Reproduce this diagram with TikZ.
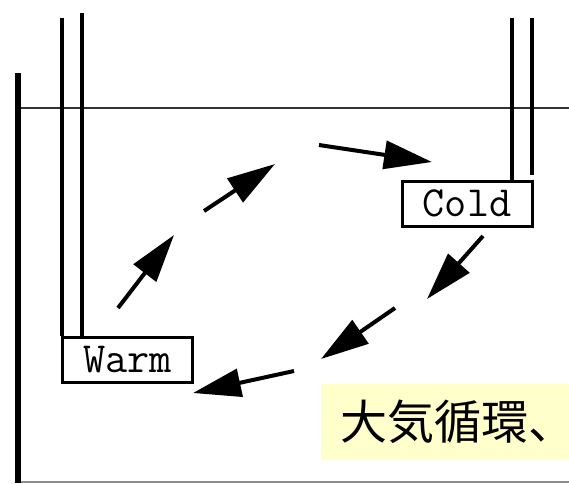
\documentclass[tikz,border=0pt]{standalone}
\usepackage{fontspec}
\newfontfamily\cjk{Noto Sans CJK JP}
\usetikzlibrary{arrows.meta}
\definecolor{notefill}{HTML}{FFFFCC}
\begin{document}
\begin{tikzpicture}[x=1pt,y=-1pt,
  wall/.style={line width=5.5pt},
  tube/.style={line width=4.5pt},
  surface/.style={line width=1.5pt, black!80},
  floor/.style={line width=2pt, black!45},
  labelbox/.style={draw, line width=3pt, fill=white, inner sep=0pt, minimum width=130pt, minimum height=45pt, font=\fontsize{43}{44}\selectfont\ttfamily},
  flow/.style={line width=4pt, -{Triangle[length=48pt,width=28pt]}}]
\useasboundingbox (0,0) rectangle (569,483);
\clip (0,0) rectangle (569,483);
% water surface and floor
\coordinate (s0) at (18,108);
\coordinate (s1) at (569,108);
\draw[surface] (s0) -- (s1);
\coordinate (f0) at (18,481.5);
\coordinate (f1) at (569,481.5);
\draw[floor] (f0) -- (f1);
% left wall
\coordinate (w0) at (18,73);
\coordinate (w1) at (18,483);
\draw[wall] (w0) -- (w1);
% boxes
\node[labelbox] (warm) at (127.3,360) {Warm};
\node[labelbox] (cold) at (467,203.5) {Cold};
% tubes
\coordinate (lt1) at (62,18);
\coordinate (lt2) at (82,13);
\coordinate (rt1) at (512,18);
\coordinate (rt2) at (532,18);
\coordinate (rt2e) at (532,175);
\draw[tube] (lt1) -- (lt1 |- warm.north);
\draw[tube] (lt2) -- (lt2 |- warm.north);
\draw[tube] (rt1) -- (rt1 |- cold.north);
\draw[tube] (rt2) -- (rt2e);
% circulation arrows
\coordinate (a1s) at (118,308); \coordinate (a1e) at (174,235);
\coordinate (a2s) at (204,211); \coordinate (a2e) at (275,164);
\coordinate (a3s) at (319,145); \coordinate (a3e) at (432,162);
\coordinate (a4s) at (483,236); \coordinate (a4e) at (427,299);
\coordinate (a5s) at (395,308); \coordinate (a5e) at (321,359);
\coordinate (a6s) at (294,371); \coordinate (a6e) at (193,393);
\draw[flow] (a1s) -- (a1e);
\draw[flow] (a2s) -- (a2e);
\draw[flow] (a3s) -- (a3e);
\draw[flow] (a4s) -- (a4e);
\draw[flow] (a5s) -- (a5e);
\draw[flow] (a6s) -- (a6e);
% caption
\node[fill=notefill, anchor=north west, minimum width=260pt, minimum height=76pt, inner sep=0pt] (note) at (321,384) {};
\node[anchor=base west, inner sep=0pt, font=\cjk\fontsize{47}{47}\selectfont] (notetext) at (340,439) {大気循環、海洋循環};
\end{tikzpicture}
\end{document}
